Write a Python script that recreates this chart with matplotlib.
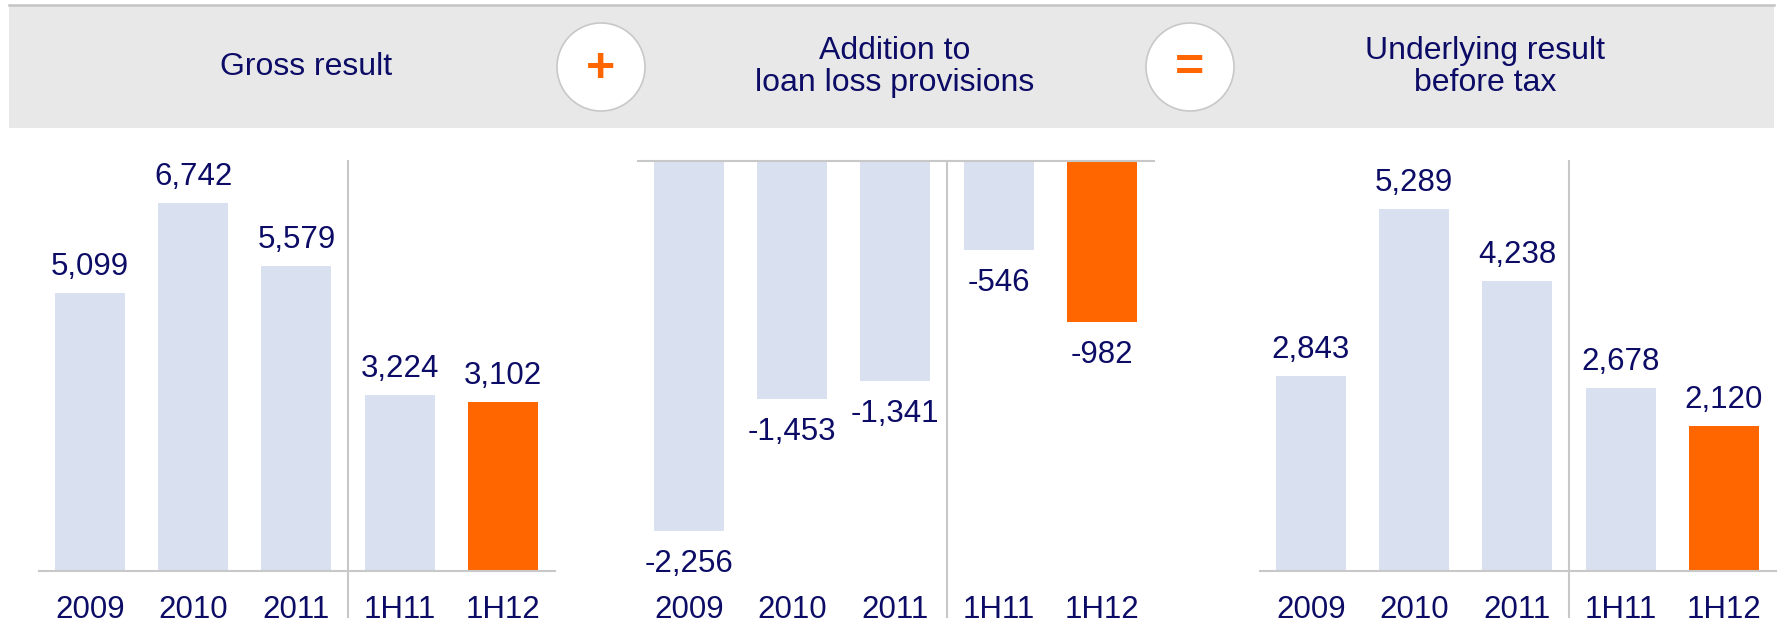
import matplotlib.pyplot as plt
from matplotlib.patches import Rectangle, Circle

plt.rcParams['font.family'] = ['Liberation Sans', 'DejaVu Sans']

categories = ['2009', '2010', '2011', '1H11', '1H12']
gross_result = [5099, 6742, 5579, 3224, 3102]
loan_loss = [-2256, -1453, -1341, -546, -982]
underlying = [2843, 5289, 4238, 2678, 2120]

titles = ['Gross result', 'Addition to\nloan loss provisions', 'Underlying result\nbefore tax']
operators = ['+', '=']

navy = '#0c0c66'
light = '#d9e0ef'
orange = '#ff6600'
grey = '#c8c8c8'

W, H = 1783, 622
fig = plt.figure(figsize=(W / 100, H / 100), dpi=100)

# header band, drawn in pixel coordinates on an overlay axes
bg = fig.add_axes([0, 0, 1, 1])
bg.set_xlim(0, W)
bg.set_ylim(H, 0)
bg.axis('off')
bg.add_patch(Rectangle((9, 6), 1765, 122, facecolor='#e8e8e8', edgecolor='none'))
bg.plot([9, 1774], [5, 5], color='#c4c4c4', lw=1.8)
for cx, t in zip([306, 895, 1485], titles):
    bg.text(cx, 67, t, ha='center', va='center', fontsize=23, color=navy, linespacing=1.05)
for cx, op in zip([601, 1190], operators):
    bg.add_patch(Circle((cx, 67), 44, facecolor='white', edgecolor='#c8c8c8', lw=1.2))
    bg.text(cx, 69, op, ha='center', va='center', fontsize=36, fontweight='bold', color=orange)

x = list(range(len(categories)))
colors = [light, light, light, light, orange]


def panel(left_px, values, lo, hi, neg=False):
    ax = fig.add_axes([left_px / W, (H - 571) / H, 516 / W, 410 / H])
    ax.bar(x, values, width=0.678, color=colors, zorder=2)
    ax.set_xlim(-0.49, 4.51)
    ax.set_ylim(lo, hi)
    for s in ax.spines.values():
        s.set_visible(False)
    if neg:
        ax.spines['top'].set_visible(True)
        ax.spines['top'].set_color(grey)
        ax.spines['top'].set_linewidth(1.5)
        ax.spines['top'].set_zorder(3)
    else:
        ax.spines['bottom'].set_visible(True)
        ax.spines['bottom'].set_color(grey)
        ax.spines['bottom'].set_linewidth(1.5)
        ax.spines['bottom'].set_zorder(3)
    ax.set_yticks([])
    ax.set_xticks(x)
    ax.set_xticklabels(categories)
    ax.tick_params(axis='x', length=0, pad=17, labelsize=22.5, labelcolor=navy)
    ax.axvline(2.5, ymin=-0.112, ymax=1, color=grey, lw=1.5, clip_on=False)
    for i, v in enumerate(values):
        if v < 0:
            ax.annotate(f'{v:,}', xy=(i, v), xytext=(0, -13), textcoords='offset points',
                        ha='center', va='top', fontsize=22.5, color=navy)
        else:
            ax.annotate(f'{v:,}', xy=(i, v), xytext=(0, 13), textcoords='offset points',
                        ha='center', va='baseline', fontsize=22.5, color=navy)
    ax.set_facecolor('none')
    return ax


panel(39.4, gross_result, 0, 7509)
panel(638.4, loan_loss, -2503, 0, neg=True)
panel(1260.4, underlying, 0, 5991)

fig.savefig('out.png', dpi=100)
